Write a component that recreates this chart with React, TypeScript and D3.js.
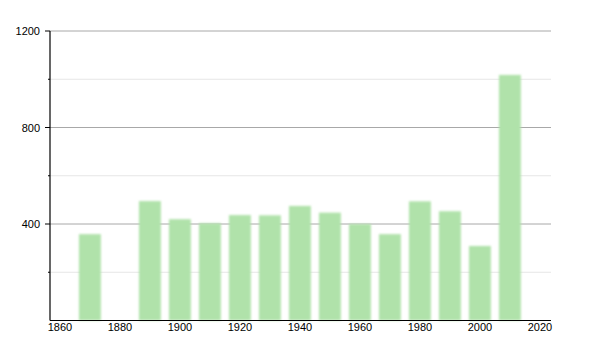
import React from "react";
import * as d3 from "d3";

const years = [1870, 1890, 1900, 1910, 1920, 1930, 1940, 1950, 1960, 1970, 1980, 1990, 2000, 2010];
const values = [358, 495, 420, 403, 437, 436, 475, 447, 400, 358, 494, 453, 309, 1018];
const xTicks = [1860, 1880, 1900, 1920, 1940, 1960, 1980, 2000, 2020];
const yMajor = [400, 800, 1200];
const yMinor = [200, 600, 1000];

const W = 600, H = 350;
const left = 50, right = 551, top = 31, bottom = 320.5;

export default function App() {
  const x = d3.scaleLinear().domain([1856.7, 2023.7]).range([left, right]);
  const y = d3.scaleLinear().domain([0, 1200]).range([bottom, top]);
  const bw = x(1867.3) - x(1860);
  const font = "'Liberation Sans', Arial, sans-serif";
  return (
    <svg width={W} height={H} style={{ position: "absolute", left: 0, top: 0 }}>
      <defs>
        <filter id="soft" x="-20%" y="-5%" width="140%" height="110%">
          <feGaussianBlur stdDeviation="0.9" />
        </filter>
      </defs>
      <rect width={W} height={H} fill="#fff" />
      {yMinor.map((v) => (
        <g key={"mn" + v}>
          <line x1={left} x2={right} y1={y(v)} y2={y(v)} stroke="#e6e6e6" strokeWidth={1} />
          <line x1={left - 2} x2={left} y1={y(v)} y2={y(v)} stroke="#000" strokeWidth={1} />
        </g>
      ))}
      {yMajor.map((v) => (
        <g key={"mj" + v}>
          <line x1={left} x2={right} y1={y(v)} y2={y(v)} stroke="#a8a8a8" strokeWidth={1} />
          <line x1={left - 5} x2={left} y1={y(v)} y2={y(v)} stroke="#000" strokeWidth={1} />
          <text x={left - 10} y={y(v) + 4} textAnchor="end" fontSize={11} fontFamily={font} fill="#000">
            {v}
          </text>
        </g>
      ))}
      <g filter="url(#soft)">
        {years.map((yr, i) => (
          <rect
            key={yr}
            x={x(yr) - bw / 2}
            y={y(values[i])}
            width={bw}
            height={bottom - y(values[i])}
            fill="#b0e2aa"
          />
        ))}
      </g>
      <line x1={left} x2={left} y1={top} y2={bottom} stroke="#000" strokeWidth={1.2} />
      <line x1={left} x2={right} y1={bottom} y2={bottom} stroke="#000" strokeWidth={1.2} />
      {xTicks.map((t) => (
        <text key={t} x={x(t)} y={bottom + 10.5} textAnchor="middle" fontSize={11} fontFamily={font} fill="#000">
          {t}
        </text>
      ))}
    </svg>
  );
}
